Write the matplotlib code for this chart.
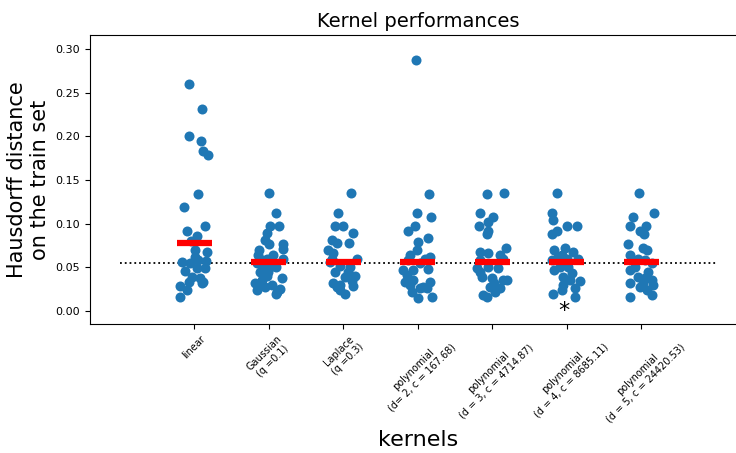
import matplotlib
matplotlib.use("Agg")
import matplotlib.pyplot as plt
import numpy as np

categories = ["linear", "Gaussian\n(q =0.1)", "Laplace\n(q =0.3)",
              "polynomial\n(d= 2, c = 167.68)", "polynomial\n(d = 3, c = 4714.87)",
              "polynomial\n(d = 4, c = 8685.11)", "polynomial\n(d = 5, c = 24420.53)"]

linear_vals = [0.260, 0.231, 0.200, 0.195, 0.183, 0.179, 0.134, 0.119, 0.0915, 0.097,
               0.086, 0.080, 0.070, 0.068, 0.062, 0.0565, 0.055, 0.058, 0.0575, 0.046,
               0.049, 0.049, 0.039, 0.038, 0.032, 0.0335, 0.0335, 0.0286, 0.024, 0.016]
linear_jit = [-0.067, 0.099, -0.067, 0.094, 0.113, 0.18, 0.046, -0.134, -0.098, 0.14,
              0.032, -0.048, 0.01, 0.17, 0.01, -0.17, -0.058, 0.054, 0.157, -0.125,
              0.032, 0.144, -0.035, 0.077, 0.1, 0.117, -0.067, -0.19, -0.094, -0.19]

gauss_vals = [0.135, 0.112, 0.097, 0.097, 0.0896, 0.081, 0.0767, 0.0767, 0.0706, 0.070,
              0.064, 0.064, 0.060, 0.060, 0.0546, 0.0507, 0.0507, 0.045, 0.040, 0.038,
              0.0317, 0.030, 0.030, 0.024, 0.027, 0.022, 0.0248, 0.0195, 0.058, 0.045,
              0.035, 0.050]
gauss_jit = [0.007, 0.097, 0.016, 0.133, -0.02, -0.05, 0.007, 0.187, 0.187, -0.128,
             -0.14, 0.06, -0.028, 0.195, -0.162, -0.074, 0.016, -0.118, -0.028, 0.173,
             -0.185, -0.095, 0.039, -0.162, -0.05, 0.106, 0.15, 0.097, -0.09, -0.01,
             -0.09, 0.097]

laplace_vals = [0.135, 0.112, 0.097, 0.097, 0.089, 0.081, 0.078, 0.078, 0.070, 0.066,
                0.060, 0.0565, 0.045, 0.045, 0.040, 0.039, 0.0317, 0.030, 0.0286, 0.027,
                0.020, 0.024, 0.052, 0.050, 0.060, 0.034]
laplace_jit = [0.1, -0.067, -0.11, -0.008, 0.126, -0.156, -0.08, 0.077, -0.2, -0.134,
               0.18, -0.18, -0.11, 0.067, 0.157, 0.023, -0.134, -0.044, 0.134, -0.089,
               0.023, -0.044, -0.044, 0.09, -0.15, 0.117]

poly2_vals = [0.287, 0.134, 0.112, 0.107, 0.0976, 0.0915, 0.0786, 0.083, 0.064, 0.070,
              0.062, 0.047, 0.047, 0.0477, 0.055, 0.0335, 0.0355, 0.0335, 0.022, 0.026,
              0.026, 0.0145, 0.016, 0.041, 0.028, 0.058, 0.060, 0.030]
poly2_jit = [-0.028, 0.15, -0.01, 0.173, -0.038, -0.136, 0.0, 0.14, -0.105, -0.015,
             0.164, -0.195, -0.06, 0.133, 0.03, -0.17, -0.06, 0.164, -0.082, 0.03,
             0.12, 0.0, 0.195, -0.15, 0.07, -0.13, 0.1, -0.105]

poly3_vals = [0.134, 0.1345, 0.112, 0.108, 0.102, 0.0976, 0.091, 0.088, 0.0717, 0.068,
              0.066, 0.064, 0.049, 0.049, 0.039, 0.0374, 0.0355, 0.0355, 0.028, 0.026,
              0.018, 0.016, 0.022, 0.045, 0.058, 0.060, 0.032, 0.050]
poly3_jit = [-0.075, 0.16, -0.165, 0.013, -0.054, -0.18, -0.054, -0.067, 0.184, -0.165,
             -0.054, 0.103, -0.21, 0.08, -0.142, -0.008, 0.148, 0.193, -0.031, 0.103,
             -0.12, -0.075, 0.036, -0.165, -0.165, 0.144, 0.02, -0.058]

poly4_vals = [0.1345, 0.112, 0.104, 0.097, 0.097, 0.0915, 0.088, 0.070, 0.0717, 0.068,
              0.064, 0.058, 0.060, 0.047, 0.039, 0.0355, 0.034, 0.030, 0.026, 0.020,
              0.024, 0.016, 0.0507, 0.0507, 0.060, 0.044, 0.062]
poly4_jit = [-0.136, -0.2, -0.18, 0.007, 0.133, -0.128, -0.195, -0.168, -0.024, 0.087,
             -0.068, -0.2, 0.0, -0.168, -0.047, 0.043, 0.177, -0.047, 0.11, -0.18,
             -0.068, 0.11, -0.09, 0.02, 0.15, 0.07, -0.118]

poly5_vals = [0.1345, 0.107, 0.112, 0.097, 0.097, 0.0915, 0.088, 0.0767, 0.0717, 0.070,
              0.064, 0.060, 0.047, 0.039, 0.0374, 0.0355, 0.0317, 0.0317, 0.030, 0.024,
              0.018, 0.016, 0.028, 0.0546, 0.058, 0.045, 0.050]
poly5_jit = [-0.027, -0.107, 0.175, -0.152, 0.063, -0.017, 0.036, -0.175, 0.027, 0.072,
             -0.152, -0.04, -0.152, -0.04, 0.05, 0.14, -0.152, 0.027, 0.161, 0.072,
             0.14, -0.152, -0.017, 0.14, 0.05, 0.09, -0.08]

mean_vals = [0.0775, 0.0565, 0.0565, 0.0565, 0.0565, 0.0565, 0.0565]
reference_level = 0.0548
best_index = 5

all_vals = [linear_vals, gauss_vals, laplace_vals, poly2_vals, poly3_vals, poly4_vals, poly5_vals]
all_jit = [linear_jit, gauss_jit, laplace_jit, poly2_jit, poly3_jit, poly4_jit, poly5_jit]

fig = plt.figure(figsize=(7.36, 4.53), dpi=100)
ax = fig.add_axes([90 / 736, (453 - 324) / 453, 655.6 / 736, 289 / 453])

for i, (vals, jit) in enumerate(zip(all_vals, all_jit)):
    xs = i + np.array(jit)
    ax.scatter(xs, vals, s=52, color="#1f77b4", zorder=2, linewidths=0)
    ax.hlines(mean_vals[i], i - 0.235, i + 0.235, colors="red", linewidth=4.5, zorder=3)

ax.hlines(reference_level, -1, 7, colors="black", linestyles=":", linewidth=1.3, zorder=1)
ax.text(best_index - 0.04, 0.0, "*", ha="center", va="center", fontsize=16)

ax.set_xlim(-1.4, 7.4)
ax.set_ylim(-0.0149, 0.3158)
ax.set_xticks(range(len(categories)))
ax.set_xticklabels(categories, rotation=45, fontsize=7)
ax.set_yticks([0.0, 0.05, 0.10, 0.15, 0.20, 0.25, 0.30])
ax.set_yticklabels(["0.00", "0.05", "0.10", "0.15", "0.20", "0.25", "0.30"], fontsize=8)
ax.spines["right"].set_visible(False)

ax.set_title("Kernel performances", fontsize=14)
ax.set_xlabel("kernels", fontsize=16)
ax.set_ylabel("Hausdorff distance\non the train set", fontsize=15)

fig.savefig("out.png", dpi=100)
